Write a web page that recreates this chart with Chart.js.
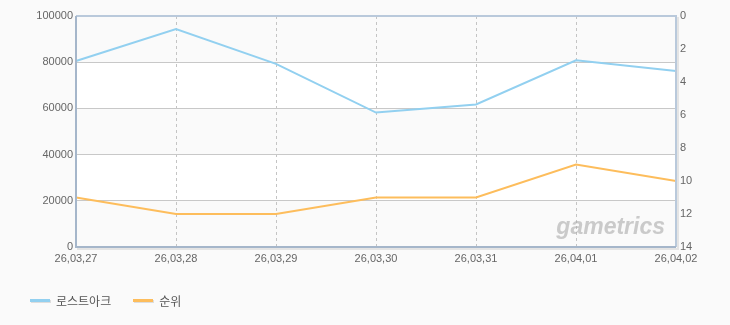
<!DOCTYPE html>
<html><head><meta charset="utf-8">
<script src="https://cdn.jsdelivr.net/npm/chart.js@4"></script>
<style>
html,body{margin:0;padding:0;background:#fafafa;}
#wrap{position:relative;width:730px;height:325px;}
#legend{position:absolute;left:30px;top:292px;font:12px "Noto Sans CJK KR",sans-serif;color:#555;display:flex;align-items:center;}
#legend span.sw{display:inline-block;width:20px;height:3px;margin-right:6px;box-shadow:1px 1px 0 #ddd;}
#legend span.lb{margin-right:22px;}
</style></head>
<body><div id="wrap"><canvas id="c" width="730" height="325"></canvas>
<div id="legend"></div></div>
<script>
const categories = ["26,03,27","26,03,28","26,03,29","26,03,30","26,03,31","26,04,01","26,04,02"];
const seriesNames = ["로스트아크","순위"];
const players = [80500, 94300, 79300, 58200, 61700, 80800, 76200];
const rank = [11, 12, 12, 11, 11, 9, 10];
const colors = ["#92d0f0","#fdbd5c"];

const lg = document.getElementById('legend');
seriesNames.forEach((n,i)=>{
  const s=document.createElement('span');s.className='sw';s.style.background=colors[i];lg.appendChild(s);
  const t=document.createElement('span');t.className='lb';t.textContent=n;lg.appendChild(t);
});

const frame = {
  id:'frame',
  beforeDraw(c){
    const {ctx, chartArea:a, scales:{y}} = c;
    ctx.save();
    ctx.fillStyle='#ffffff';
    ctx.fillRect(a.left,a.top,a.right-a.left,a.bottom-a.top);
    ctx.fillStyle='#fafafa';
    [[80000,100000],[40000,60000],[0,20000]].forEach(([lo,hi])=>{
      const y1=y.getPixelForValue(hi), y2=y.getPixelForValue(lo);
      ctx.fillRect(a.left,y1,a.right-a.left,y2-y1);
    });
    ctx.restore();
  },
  afterDraw(c){
    const {ctx, chartArea:a} = c;
    ctx.save();
    ctx.font='italic bold 23px "Liberation Sans", sans-serif';
    ctx.fillStyle='rgba(170,170,170,0.6)';
    ctx.textAlign='right';ctx.textBaseline='alphabetic';
    ctx.fillText('gametrics', a.right-11, a.bottom-13);
    ctx.fillStyle='#e4e4e4';
    ctx.fillRect(a.left+1,a.bottom+1,a.right-a.left+2,2);
    ctx.fillRect(a.right+1,a.top+1,2,a.bottom-a.top+2);
    ctx.strokeStyle='#b9c9db';ctx.lineWidth=2;
    ctx.beginPath();ctx.moveTo(a.left,a.top);ctx.lineTo(a.right,a.top);ctx.lineTo(a.right,a.bottom);ctx.stroke();
    ctx.strokeStyle='#a5b6ca';ctx.lineWidth=2;
    ctx.beginPath();ctx.moveTo(a.left,a.top);ctx.lineTo(a.left,a.bottom);ctx.lineTo(a.right,a.bottom);ctx.stroke();
    ctx.restore();
  }
};

const tickFont = {size:11, family:'"Liberation Sans", Arial, sans-serif'};
new Chart(document.getElementById('c'), {
  type:'line',
  data:{labels:categories, datasets:[
    {label:seriesNames[0], data:players, yAxisID:'y', borderColor:colors[0], borderWidth:2, pointRadius:0, tension:0, fill:false},
    {label:seriesNames[1], data:rank, yAxisID:'y1', borderColor:colors[1], borderWidth:2, pointRadius:0, tension:0, fill:false}
  ]},
  options:{
    responsive:false, animation:false,
    layout:{padding:{top:16,left:0,right:0,bottom:0}},
    plugins:{legend:{display:false}, tooltip:{enabled:false}},
    scales:{
      x:{offset:false,
        grid:{color:'#c4c4c4', drawTicks:false},
        border:{display:false, dash:[3,3]},
        ticks:{color:'#666', font:tickFont, padding:5, maxRotation:0, autoSkip:false},
        afterFit(s){s.height=78;}
      },
      y:{position:'left', min:0, max:100000,
        grid:{color:'#c8c8c8', drawTicks:false},
        border:{display:false},
        ticks:{stepSize:20000, color:'#666', padding:3, font:tickFont, callback:v=>String(v)},
        afterFit(s){s.width=76;}
      },
      y1:{position:'right', min:0, max:14, reverse:true,
        grid:{display:false, drawTicks:false},
        border:{display:false},
        ticks:{stepSize:2, color:'#666', padding:4, font:tickFont, callback:v=>String(v)},
        afterFit(s){s.width=54;}
      }
    }
  },
  plugins:[frame]
});
</script></body></html>
